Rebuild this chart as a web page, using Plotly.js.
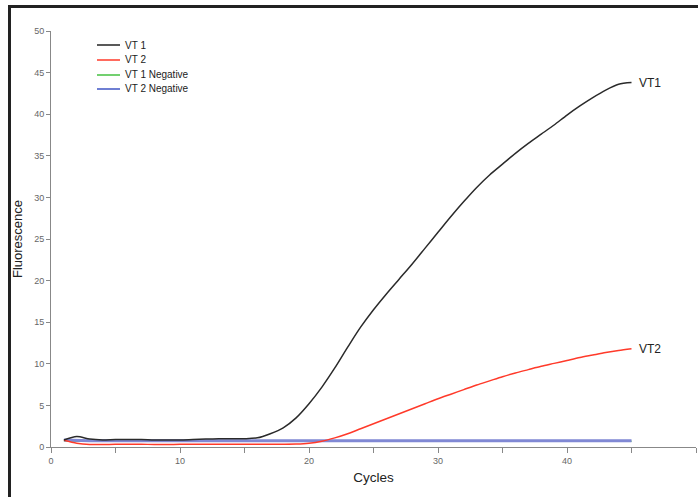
<!DOCTYPE html>
<html>
<head>
<meta charset="utf-8">
<script src="https://cdn.plot.ly/plotly-3.0.1.min.js"></script>
<style>html,body{margin:0;padding:0;background:#fff;}#chart{width:698px;height:497px;}</style>
</head>
<body>
<div id="chart"></div>
<script>
const cycles = [1,2,3,4,5,6,7,8,9,10,11,12,13,14,15,16,17,18,19,20,21,22,23,24,25,26,27,28,29,30,31,32,33,34,35,36,37,38,39,40,41,42,43,44,45];
const vt1 = [0.85,1.25,0.95,0.85,0.9,0.9,0.9,0.85,0.85,0.85,0.9,0.95,1.0,1.0,1.0,1.1,1.6,2.3,3.5,5.2,7.2,9.5,12.0,14.4,16.5,18.4,20.2,22.0,23.9,25.8,27.7,29.5,31.2,32.7,34.0,35.3,36.5,37.6,38.7,39.9,41.0,42.0,42.9,43.6,43.8];
const vt2 = [0.8,0.45,0.3,0.3,0.32,0.33,0.33,0.3,0.3,0.32,0.33,0.33,0.33,0.33,0.33,0.33,0.33,0.33,0.35,0.45,0.7,1.1,1.6,2.2,2.8,3.4,4.0,4.6,5.2,5.8,6.35,6.9,7.45,7.95,8.45,8.9,9.3,9.7,10.05,10.4,10.75,11.05,11.35,11.6,11.8];
const vt1Neg = [0.75,0.7,0.7,0.7,0.7,0.7,0.7,0.7,0.7,0.7,0.7,0.7,0.7,0.7,0.7,0.7,0.7,0.7,0.7,0.7,0.7,0.7,0.7,0.7,0.7,0.7,0.7,0.7,0.7,0.7,0.7,0.7,0.7,0.7,0.7,0.7,0.7,0.7,0.7,0.7,0.7,0.7,0.7,0.7,0.7];
const vt2Neg = [0.85,0.78,0.76,0.75,0.75,0.75,0.75,0.75,0.75,0.75,0.75,0.75,0.75,0.75,0.75,0.75,0.75,0.75,0.75,0.75,0.75,0.75,0.75,0.75,0.75,0.75,0.75,0.75,0.75,0.75,0.75,0.75,0.75,0.75,0.75,0.75,0.75,0.75,0.75,0.75,0.75,0.75,0.75,0.75,0.75];
const seriesNames = ["VT 1","VT 2","VT 1 Negative","VT 2 Negative"];
const seriesColors = ["#222222","#ff3a2a","#44c040","#3f55c4"];
const endLabels = ["VT1","VT2"];

const F = "Arial, 'Liberation Sans', sans-serif";
const W = 698, H = 497, M = {l: 51, r: 2, t: 31, b: 50};
const PW = W - M.l - M.r, PH = H - M.t - M.b;
const px2x = px => (px - M.l) / PW;
const py2y = py => (H - M.b - py) / PH;

const traces = [
  {x: cycles, y: vt1Neg, name: seriesNames[2], mode: "lines", line: {color: seriesColors[2], width: 1.5}},
  {x: cycles, y: vt2Neg, name: seriesNames[3], mode: "lines", line: {color: "#8088d4", width: 3}},
  {x: cycles, y: vt2, name: seriesNames[1], mode: "lines", line: {color: seriesColors[1], width: 1.5, shape: "spline", smoothing: 0.8}},
  {x: cycles, y: vt1, name: seriesNames[0], mode: "lines", line: {color: "#2a2a2a", width: 1.5, shape: "spline", smoothing: 0.8}}
];

// compact legend drawn like the reference
const legendRows = [45, 60, 75, 89];
const shapes = [
  {type: "line", xref: "paper", yref: "paper", x0: px2x(8), x1: px2x(700), y0: py2y(6.5), y1: py2y(6.5), line: {color: "#222", width: 3}},
  {type: "line", xref: "paper", yref: "paper", x0: px2x(9.5), x1: px2x(9.5), y0: py2y(5), y1: py2y(500), line: {color: "#222", width: 3}}
];
const annotations = [
  {x: 45.4, y: vt1[vt1.length-1], xref: "x", yref: "y", text: endLabels[0], showarrow: false, xanchor: "left", yanchor: "middle", font: {family: F, size: 12, color: "#222"}},
  {x: 45.4, y: vt2[vt2.length-1], xref: "x", yref: "y", text: endLabels[1], showarrow: false, xanchor: "left", yanchor: "middle", font: {family: F, size: 12, color: "#222"}}
];
seriesNames.forEach((nm, i) => {
  shapes.push({type: "line", xref: "paper", yref: "paper", x0: px2x(97), x1: px2x(120), y0: py2y(legendRows[i]), y1: py2y(legendRows[i]), line: {color: seriesColors[i], width: 1.5}});
  annotations.push({xref: "paper", yref: "paper", x: px2x(123), y: py2y(legendRows[i]), text: nm, showarrow: false, xanchor: "left", yanchor: "middle", font: {family: F, size: 10, color: "#222"}});
});

const layout = {
  width: W, height: H,
  margin: M,
  paper_bgcolor: "#ffffff", plot_bgcolor: "#ffffff",
  font: {family: F, size: 9, color: "#555"},
  showlegend: false,
  xaxis: {
    range: [0, 50], dtick: 10, tick0: 0, showgrid: false, zeroline: false,
    showline: true, linecolor: "#888", linewidth: 1,
    ticks: "outside", ticklen: 5, tickcolor: "#888",
    minor: {dtick: 5, ticks: "outside", ticklen: 5, tickcolor: "#888", showgrid: false},
    tickfont: {family: F, size: 9, color: "#666"},
    title: {text: "Cycles", font: {family: F, size: 13.5, color: "#222"}, standoff: 7}
  },
  yaxis: {
    range: [0, 50], dtick: 5, tick0: 0, showgrid: false, zeroline: false,
    showline: true, linecolor: "#888", linewidth: 1,
    ticks: "outside", ticklen: 4, tickcolor: "#888",
    tickfont: {family: F, size: 9, color: "#666"},
    title: {text: "Fluorescence", font: {family: F, size: 13, color: "#222"}, standoff: 8}
  },
  annotations: annotations,
  shapes: shapes
};

Plotly.newPlot("chart", traces, layout, {displayModeBar: false, staticPlot: true});
</script>
</body>
</html>
